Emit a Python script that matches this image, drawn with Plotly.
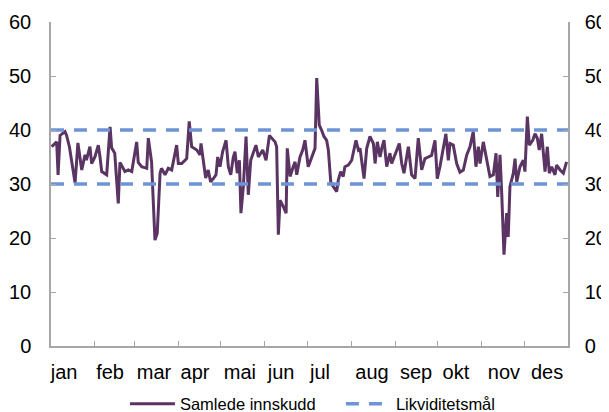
import pandas as pd
import plotly.graph_objects as go

# Day of year (0 = 1 Jan) and total deposits (Samlede innskudd)
dag = [0.5, 4, 5, 6.4, 9.9, 11, 13, 17, 19, 21.7, 24, 25, 27.5, 28.7, 31, 33.4, 34.6, 35.8,
       39.3, 41.7, 42.8, 45, 47.5, 48.7, 52.2, 54.6, 57, 60.5, 61.6, 64, 67.6, 68.7, 71,
       73.4, 75, 77, 78, 80.5, 82.8, 85.2, 88.7, 89.9, 92.3, 95.8, 97.6, 99.3, 102.9, 105.2,
       105.9, 107.5, 109.2, 111, 112.7, 114.6, 116.5, 117.7, 119.3, 121.2, 123.6, 125.2,
       126.9, 128.7, 129.9, 131.5, 133, 134.1, 135.8, 137.7, 139.3, 141, 142.8, 144.7,
       146.4, 149.5, 151.8, 154.2, 158.2, 159.3, 160.5, 161.7, 164, 166, 166.8, 168.8, 171,
       172.3, 173.5, 175.8, 177.7, 179.3, 181.6, 184, 186.4, 187.6, 189.4, 191, 192.7,
       194.6, 195.8, 197.5, 199.3, 201.7, 202.8, 204.5, 206.3, 207.5, 209.9, 212.3, 213.4,
       215.3, 217, 218.2, 219.3, 221, 222.9, 225.2, 227.6, 228.8, 230.4, 232.3, 233.5,
       235.1, 237, 239.3, 240.5, 242.1, 243.5, 245.9, 247.6, 249.2, 252.3, 254.6, 257,
       259.3, 261.7, 264, 266.4, 268.7, 271.1, 272.7, 274.6, 276.5, 278.8, 280.5, 281.7,
       284, 286.4, 288.7, 291.1, 293.5, 294.6, 295.8, 298.1, 300, 301.7, 302.9, 305.2,
       307.6, 309.9, 312.3, 314.2, 315.4, 317, 318.2, 319.8, 321.7, 322.8, 324, 326.4,
       327.6, 328.8, 331.1, 333.4, 334.6, 336.3, 337.7, 340.1, 341.7, 343.3, 344.7, 346.4,
       348.8, 350.4, 351.8, 353.5, 355.8, 357, 359.4, 361.7, 364]
innskudd = [36.9, 37.8, 31.7, 39, 39.7, 39, 36.9, 30.2, 37.6, 32.6, 35.4, 34.4, 36.9, 33.8,
            35, 37.2, 35, 32.3, 31.7, 40.6, 36.7, 35.7, 26.4, 34, 32.3, 32.6, 32.3, 37.8,
            34, 33.2, 32.9, 38.5, 34.1, 19.6, 20.9, 32, 32.9, 31.7, 32.9, 32.6, 37.2, 33.8,
            33.8, 34.7, 41.6, 36.9, 36.3, 35.4, 37.5, 34, 31.1, 32.6, 30.4, 31, 31.7, 35,
            33.2, 36, 38.1, 33.2, 31.7, 35, 36, 32, 34.4, 24.6, 29.5, 38.8, 28, 34.4, 36,
            37.2, 35, 36.3, 34.4, 39, 37.8, 36.9, 20.6, 27, 25.8, 24.6, 36.6, 31.4, 33.2,
            34.1, 31.7, 35, 36.3, 38.1, 33.2, 35, 36.6, 49.6, 40.9, 40, 38.8, 38.1, 36.3,
            30.4, 29.5, 28.6, 30.7, 32.3, 31.4, 33.2, 33.5, 34.4, 35.7, 38.1, 36.3, 36.6,
            34.4, 31, 36.6, 38.8, 37.5, 33.8, 37.8, 35, 36.6, 38.1, 33.2, 35.7, 33.8, 35,
            36, 37.5, 33.8, 32, 36.9, 31.7, 31, 38.5, 32.6, 34.7, 35, 35.3, 38.1, 31, 33.2,
            36.3, 39.3, 34.4, 37.5, 37.2, 33.8, 32.2, 32.6, 35.4, 36.3, 36.9, 39.7, 33.2,
            36.9, 33.8, 37.8, 34.4, 31.4, 31.7, 35.7, 27.6, 35.4, 28.3, 16.9, 24.6, 20.2,
            29.5, 32, 34.7, 30.4, 33.2, 34.4, 32.3, 42.5, 37.2, 38.1, 39.3, 38.5, 36.3,
            39.3, 32.3, 36.9, 32, 33.2, 31.7, 33.5, 32.6, 32, 34.1]

# Liquidity target band (Likviditetsmål)
mal_ovre = 40
mal_nedre = 30

maaneder = ["jan", "feb", "mar", "apr", "mai", "jun", "jul", "aug", "sep", "okt", "nov", "des"]
y_ticks = [0, 10, 20, 30, 40, 50, 60]

start = pd.Timestamp("2011-01-01")
slutt = pd.Timestamp("2012-01-01")
datoer = [start + pd.Timedelta(days=d) for d in dag]
maanedsstart = list(pd.date_range("2011-01-01", "2012-01-01", freq="MS"))
# label anchor positions (day of year) as placed in the original
etikett_dag = [9.2, 41.7, 72.7, 101.7, 133.4, 162.4, 189.9, 226.6, 257.7, 285.9, 319.8, 350.2]
etikett_pos = [start + pd.Timedelta(days=d) for d in etikett_dag]

fig = go.Figure()
fig.add_trace(go.Scatter(
    x=datoer, y=innskudd, mode="lines", name="Samlede innskudd",
    line=dict(color="#5A3563", width=3), xaxis="x", yaxis="y"))
fig.add_trace(go.Scatter(
    x=[start, slutt, None, start, slutt],
    y=[mal_ovre, mal_ovre, None, mal_nedre, mal_nedre],
    mode="lines", name="Likviditetsmål",
    line=dict(color="#6F94D6", width=3.5, dash="13px,10px"), xaxis="x", yaxis="y"))
# invisible helper traces to activate secondary axes
fig.add_trace(go.Scatter(x=[start], y=[0], mode="markers", marker=dict(opacity=0),
                         showlegend=False, hoverinfo="skip", xaxis="x", yaxis="y2"))
fig.add_trace(go.Scatter(x=[start], y=[0], mode="markers", marker=dict(opacity=0),
                         showlegend=False, hoverinfo="skip", xaxis="x2", yaxis="y"))

axis_col = "#A6A6A6"
font_txt = dict(family="Liberation Sans, Arial, sans-serif", size=20, color="#000000")

# The page body has an 8px margin, so the figure is sized to fill the rest of the window.
fig.update_layout(
    width=601, height=404,
    margin=dict(l=43, r=41, t=14, b=66, autoexpand=False),
    paper_bgcolor="white", plot_bgcolor="white",
    showlegend=True,
    legend=dict(orientation="h", x=0.143, xanchor="left", y=-0.125, yanchor="top",
                font=dict(family="Liberation Sans, Arial, sans-serif", size=16.5, color="#000"),
                itemwidth=45, tracegroupgap=0, entrywidth=156, entrywidthmode="pixels"),
    xaxis=dict(type="date", range=[start, slutt], tickvals=maanedsstart,
               showticklabels=False, ticks="inside", ticklen=5, tickcolor=axis_col,
               showline=True, linecolor=axis_col, linewidth=1.5, showgrid=False,
               zeroline=False, automargin=False),
    xaxis2=dict(type="date", range=[start, slutt], overlaying="x", side="bottom",
                tickvals=etikett_pos, ticktext=maaneder, ticks="", showline=False,
                showgrid=False, zeroline=False, tickfont=font_txt, ticklabelstandoff=12,
                automargin=False),
    yaxis=dict(range=[0, 60], tickvals=y_ticks, ticks="inside", ticklen=5,
               tickcolor=axis_col, showline=True, linecolor=axis_col, linewidth=1.5,
               showgrid=False, zeroline=False, tickfont=font_txt, ticklabelstandoff=14,
               automargin=False),
    yaxis2=dict(range=[0, 60], tickvals=y_ticks, overlaying="y", side="right",
                ticks="inside", ticklen=5, tickcolor=axis_col, showline=True,
                linecolor=axis_col, linewidth=1.5, showgrid=False, zeroline=False,
                tickfont=font_txt, ticklabelstandoff=11, automargin=False),
)

fig.write_html("out.html")
